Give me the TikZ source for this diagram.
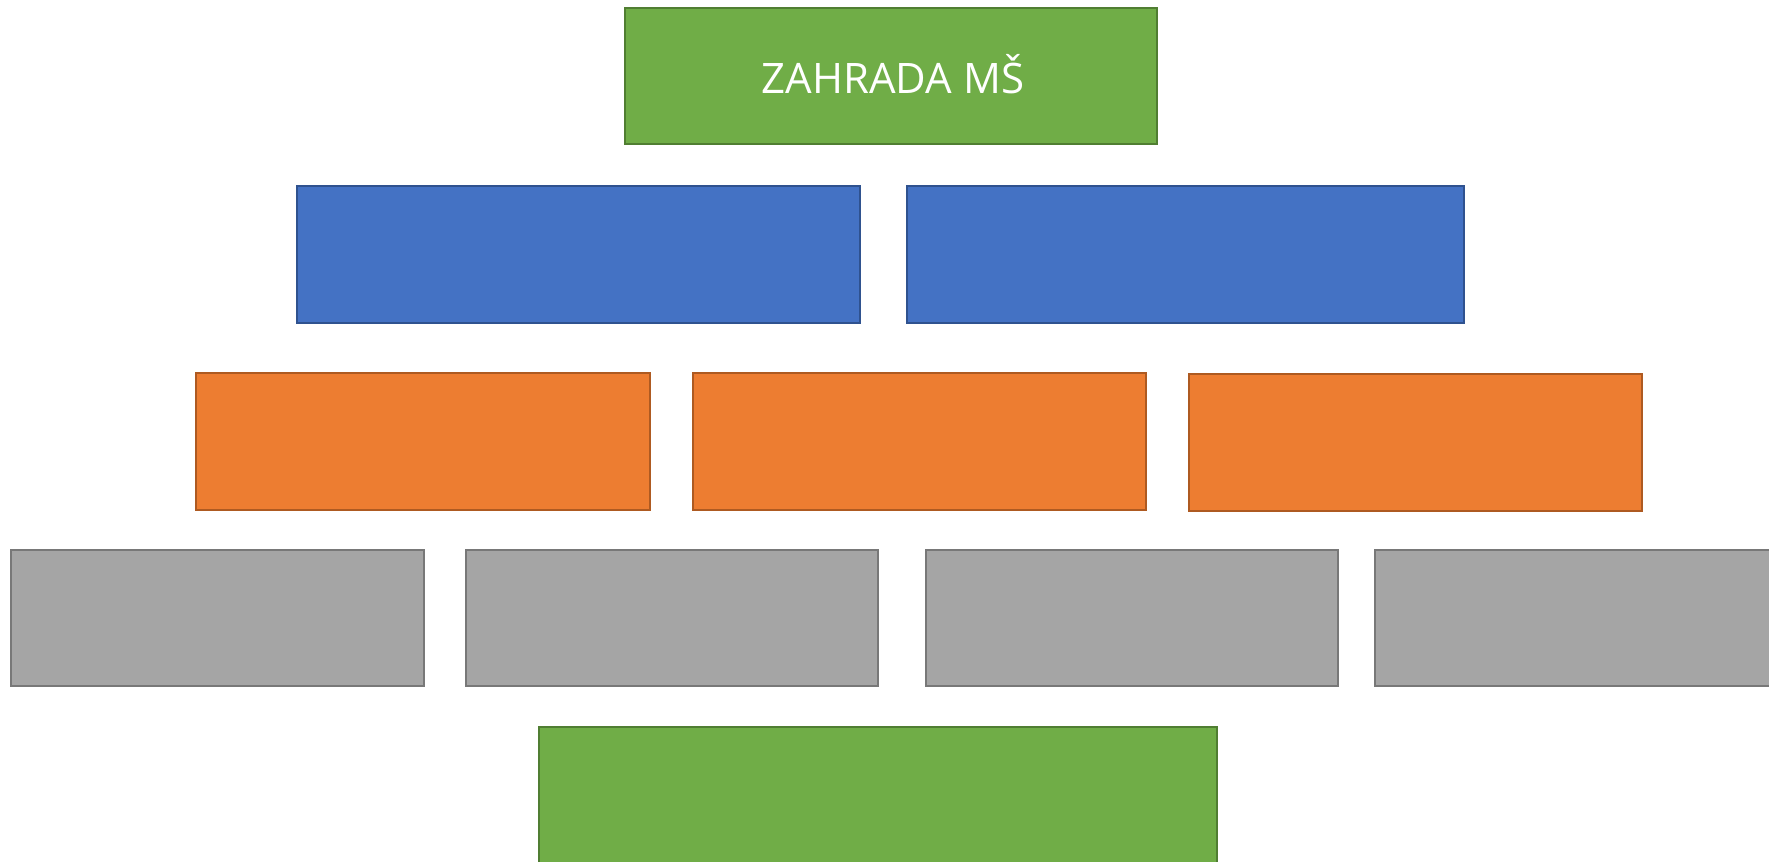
\documentclass[tikz,border=0pt]{standalone}
\usepackage{fontspec}
\setmainfont{Open Sans}
\begin{document}
\begin{tikzpicture}[x=0.5pt,y=-0.5pt,
  box/.style={draw, line width=1pt},
  greenbox/.style={box, fill={rgb,255:red,112;green,173;blue,71}, draw={rgb,255:red,80;green,126;blue,50}},
  bluebox/.style={box, fill={rgb,255:red,68;green,114;blue,196}, draw={rgb,255:red,47;green,82;blue,143}},
  orangebox/.style={box, fill={rgb,255:red,237;green,125;blue,49}, draw={rgb,255:red,174;green,90;blue,33}},
  graybox/.style={box, fill={rgb,255:red,165;green,165;blue,165}, draw={rgb,255:red,120;green,120;blue,120}}]
\useasboundingbox (0,0) rectangle (1769,862);
\begin{scope}
\clip (0,0) rectangle (1769,862);
\draw[greenbox] (625,8) rectangle (1157,144);
\node[text=white, font=\fontsize{21}{25}\selectfont] (title) at (893,74) {ZAHRADA MŠ};
\draw[bluebox] (297,186) rectangle (860,323);
\draw[bluebox] (907,186) rectangle (1464,323);
\draw[orangebox] (196,373) rectangle (650,510);
\draw[orangebox] (693,373) rectangle (1146,510);
\draw[orangebox] (1189,373.5) rectangle (1642,511);
\draw[graybox] (11,550) rectangle (424,686);
\draw[graybox] (466,550) rectangle (878,686);
\draw[graybox] (926,550) rectangle (1338,686);
\draw[graybox] (1375,550) rectangle (1800,686);
\draw[greenbox] (539,727) rectangle (1217,900);
\end{scope}
\end{tikzpicture}
\end{document}
